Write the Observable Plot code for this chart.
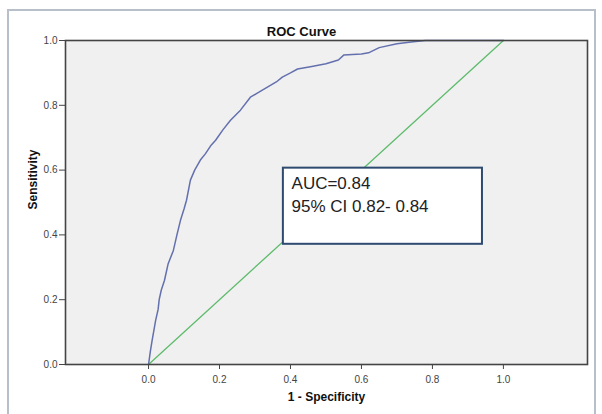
<!DOCTYPE html>
<html>
<head>
<meta charset="utf-8">
<script src="https://cdn.jsdelivr.net/npm/d3@7"></script>
<script src="https://cdn.jsdelivr.net/npm/@observablehq/plot@0.6"></script>
<style>
  html, body { margin: 0; padding: 0; background: #fff; }
  #wrap { position: relative; width: 602px; height: 414px; overflow: hidden; font-family: "Liberation Sans", Arial, sans-serif; }
  #outer { position: absolute; left: 7px; top: 9px; width: 585px; height: 420px; border: 2px solid #b7bfc8; border-bottom: none; }
  #chart { position: absolute; left: 0; top: 0; }
</style>
</head>
<body>
<div id="wrap"><div id="outer"></div><div id="chart"></div></div>
<script>
// ROC curve points (1 - specificity, sensitivity)
const fpr = [0, 0.005, 0.01, 0.02, 0.027, 0.03, 0.036, 0.045, 0.055, 0.07, 0.08, 0.09, 0.1, 0.107, 0.118, 0.13, 0.146, 0.16, 0.175, 0.189, 0.21, 0.231, 0.259, 0.287, 0.31, 0.335, 0.36, 0.377, 0.40, 0.42, 0.46, 0.50, 0.535, 0.55, 0.60, 0.62, 0.65, 0.70, 0.74, 0.78, 1.0];
const tpr = [0, 0.04, 0.074, 0.136, 0.17, 0.2, 0.23, 0.26, 0.31, 0.352, 0.40, 0.445, 0.48, 0.507, 0.569, 0.60, 0.631, 0.65, 0.675, 0.692, 0.725, 0.754, 0.785, 0.825, 0.84, 0.856, 0.872, 0.887, 0.90, 0.912, 0.92, 0.928, 0.94, 0.955, 0.958, 0.962, 0.978, 0.99, 0.995, 1.0, 1.0];
// reference diagonal
const refX = [0, 1];
const refY = [0, 1];
// tick labels
const xTicks = [0, 0.2, 0.4, 0.6, 0.8, 1.0];
const yTicks = [0, 0.2, 0.4, 0.6, 0.8, 1.0];
// texts
const titleText = "ROC Curve";
const xLabel = "1 - Specificity";
const yLabel = "Sensitivity";
const aucLines = ["AUC=0.84", "95% CI 0.82- 0.84"];

const roc = fpr.map((x, i) => ({x, y: tpr[i]}));
const diag = refX.map((x, i) => ({x, y: refY[i]}));
const box = [{x1: 0.38, x2: 0.941, y1: 0.371, y2: 0.606}];
const boxText = [{x: 0.403, y: 0.56, t: aucLines[0]}, {x: 0.403, y: 0.488, t: aucLines[1]}];

const fmt = d3.format(".1f");
const chart = Plot.plot({
  width: 602,
  height: 414,
  marginLeft: 65,
  marginRight: 15,
  marginTop: 40,
  marginBottom: 50,
  style: {fontFamily: "'Liberation Sans', Arial, sans-serif", background: "transparent", overflow: "visible"},
  x: {domain: [-0.234, 1.237]},
  y: {domain: [0, 1]},
  marks: [
    Plot.frame({fill: "#f0f0f0", stroke: null}),
    Plot.line(diag, {x: "x", y: "y", stroke: "#5dbb6b", strokeWidth: 1.3}),
    Plot.line(roc, {x: "x", y: "y", stroke: "#6470ae", strokeWidth: 1.5, curve: "linear"}),
    Plot.rect(box, {x1: "x1", x2: "x2", y1: "y1", y2: "y2", fill: "#fff", stroke: "#2f4a70", strokeWidth: 2}),
    Plot.text(boxText, {x: "x", y: "y", text: "t", textAnchor: "start", fontSize: 17, fill: "#222"}),
    Plot.frame({stroke: "#444", strokeWidth: 1.6}),
    Plot.axisX({ticks: xTicks, tickFormat: fmt, tickSize: 5, tickPadding: 6, fontSize: 10, color: "#444", label: null}),
    Plot.axisY({ticks: yTicks, tickFormat: fmt, tickSize: 6, tickPadding: 2, fontSize: 10, color: "#444", label: null}),
    Plot.text([titleText], {frameAnchor: "top", lineAnchor: "middle", dx: -25, dy: -9, fontSize: 13, fontWeight: "bold", fill: "#111"}),
    Plot.text([xLabel], {frameAnchor: "bottom", lineAnchor: "middle", dy: 33, fontSize: 12, fontWeight: "bold", fill: "#111"}),
    Plot.text([yLabel], {frameAnchor: "left", dx: -32, dy: 7, rotate: -90, fontSize: 12, fontWeight: "bold", fill: "#111"})
  ]
});
document.getElementById("chart").appendChild(chart);
</script>
</body>
</html>
